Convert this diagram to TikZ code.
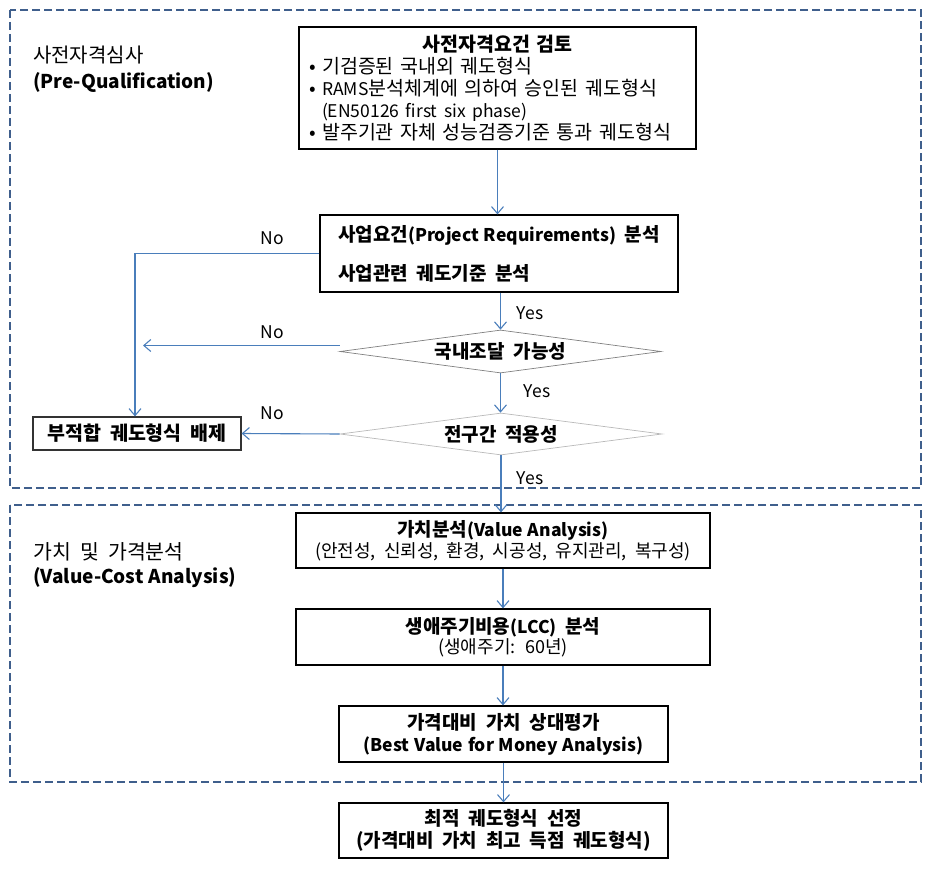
\documentclass[tikz,border=0pt]{standalone}
\usepackage{fontspec}
\setmainfont{Noto Sans CJK KR}[WordSpace=2]
\newfontfamily\latfont{Noto Sans CJK KR}[WordSpace=1.2]
\usetikzlibrary{shapes.geometric,arrows.meta}
\definecolor{flowblue}{HTML}{4A7EBB}
\definecolor{frameblue}{HTML}{3F5F8C}
\newcommand\lat[1]{{\latfont\fontsize{17.5}{22}\selectfont #1}}

\begin{document}
\begin{tikzpicture}[x=1pt, y=-1pt,
	box/.style={draw=black, line width=1.2pt, inner sep=0pt, align=center, font=\fontsize{19}{21}\selectfont},
	cond/.style={diamond, aspect=7.5, inner sep=0pt, line width=0.7pt, font=\fontsize{19}{20}\selectfont\bfseries},
	flow/.style={draw=flowblue, line width=1.1pt, -{Straight Barb[length=7pt,width=12pt]}},
	frame/.style={draw=frameblue, line width=2.6pt, dash pattern=on 8pt off 4pt},
	tag/.style={inner sep=0pt, font=\fontsize{17.5}{18}\selectfont}
]
	\useasboundingbox (0,0) rectangle (932,869);
	\draw[frame] (10,10) rectangle (921,488);
	\draw[frame] (10,505) rectangle (921,782);

	\node[anchor=west, inner sep=0pt, font=\fontsize{20}{24}\selectfont] (pqkr) at (33,55) {사전자격심사};
	\node[anchor=west, inner sep=0pt, font=\latfont\fontsize{19}{22}\selectfont\bfseries] (pqen) at (33,83) {(Pre-Qualification)};
	\node[anchor=west, inner sep=0pt, font=\fontsize{20.5}{24}\selectfont] (vckr) at (33,552) {가치 및 가격분석};
	\node[anchor=west, inner sep=0pt, font=\latfont\fontsize{19}{22}\selectfont\bfseries] (vcen) at (33,578) {(Value-Cost Analysis)};

	\node[box, minimum width=397pt, minimum height=122pt, text width=377pt, align=left, font=\fontsize{19.5}{22}\selectfont] (req) at (497.5,88)
		{{\centering\bfseries 사전자격요건 검토\par}• 기검증된 국내외 궤도형식\\• \lat{RAMS}분석체계에 의하여 승인된 궤도형식\\\hspace*{13pt}\lat{(EN50126 first six phase)}\\• 발주기관 자체 성능검증기준 통과 궤도형식};
	\node[box, minimum width=358pt, minimum height=77pt, align=left, font=\fontsize{19}{22}\selectfont\bfseries] (proj) at (499,253.5)
		{사업요건\lat{(Project Requirements)} 분석\\[17pt]사업관련 궤도기준 분석};
	\node[cond, draw=gray, minimum width=321pt, minimum height=43pt] (dom) at (500.5,351.5) {국내조달 가능성};
	\node[cond, draw=gray!55, minimum width=322pt, minimum height=42pt] (sec) at (501,434) {전구간 적용성};
	\node[box, draw=black!80, minimum width=208pt, minimum height=33pt, font=\fontsize{19.5}{20}\selectfont\bfseries] (reject) at (137,433.5) {부적합 궤도형식 배제};

	\node[box, minimum width=414pt, minimum height=55pt, font=\fontsize{18}{21}\selectfont] (value) at (503,540.5)
		{\textbf{\fontsize{19}{21}\selectfont 가치분석\lat{(Value Analysis)}}\\(안전성, 신뢰성, 환경, 시공성, 유지관리, 복구성)};
	\node[box, minimum width=414pt, minimum height=56pt, font=\fontsize{18}{20}\selectfont] (lcc) at (503,637)
		{\textbf{\fontsize{19}{20}\selectfont 생애주기비용\lat{(LCC)} 분석}\\(생애주기: 60년)};
	\node[box, minimum width=329pt, minimum height=56pt, font=\fontsize{19}{22}\selectfont\bfseries] (bvm) at (503.5,734)
		{가격대비 가치 상대평가\\\lat{(Best Value for Money Analysis)}};
	\node[box, minimum width=329pt, minimum height=55pt, font=\fontsize{19}{22}\selectfont\bfseries] (best) at (503.5,830.5)
		{최적 궤도형식 선정\\(가격대비 가치 최고 득점 궤도형식)};

	\coordinate (nojoin) at (143,345.5);
	\draw[flow] (req.south) -- (req.south |- proj.north);
	\draw[flow] (proj.south -| dom.north) -- (dom.north);
	\draw[flow] (dom.south) -- (dom.south |- sec.north);
	\draw[flow] (sec.south) -- (sec.south |- value.north);
	\draw[flow] (value.south) -- (lcc.north);
	\draw[flow] (lcc.south) -- (lcc.south |- bvm.north);
	\draw[flow] (bvm.south) -- (best.north);
	\draw[flow] (proj.west) -| ([xshift=-2pt]reject.north);
	\draw[flow] ([yshift=6pt]dom.west) -- (nojoin);
	\draw[flow] (sec.west) -- (reject.east);

	\node[tag] (no1) at (272,238) {No};
	\node[tag] (no2) at (272,332) {No};
	\node[tag] (no3) at (272,413) {No};
	\node[tag] (yes1) at (530,313) {Yes};
	\node[tag] (yes2) at (537,391) {Yes};
	\node[tag] (yes3) at (530,478) {Yes};
\end{tikzpicture}
\end{document}
